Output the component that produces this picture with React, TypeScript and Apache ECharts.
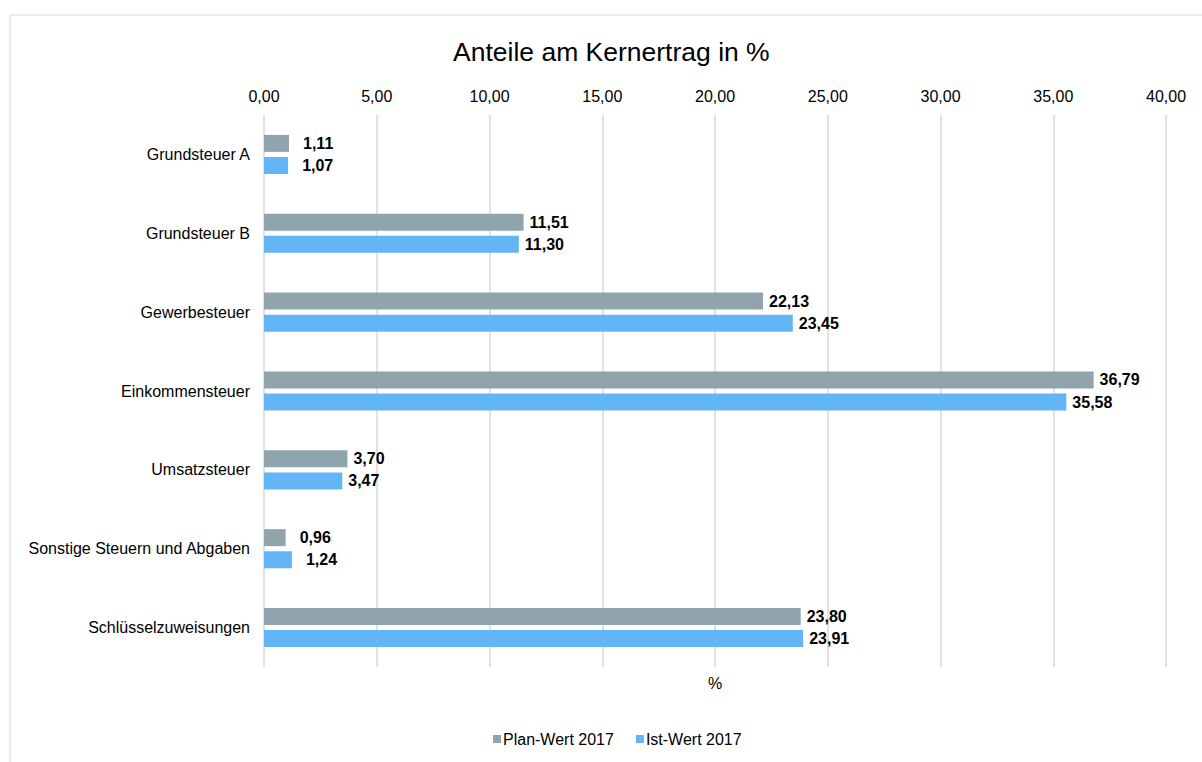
import React, { useEffect, useRef } from "react";
import * as echarts from "echarts";

const categories = [
  "Grundsteuer A",
  "Grundsteuer B",
  "Gewerbesteuer",
  "Einkommensteuer",
  "Umsatzsteuer",
  "Sonstige Steuern und Abgaben",
  "Schlüsselzuweisungen",
];
const planValues = [1.11, 11.51, 22.13, 36.79, 3.7, 0.96, 23.8];
const istValues = [1.07, 11.3, 23.45, 35.58, 3.47, 1.24, 23.91];
const seriesNames = ["Plan-Wert 2017", "Ist-Wert 2017"];
const titleText = "Anteile am Kernertrag in %";
const axisName = "%";

const fmt = (v: number) => v.toFixed(2).replace(".", ",");
const FONT = "Liberation Sans, Arial, sans-serif";

export default function App() {
  const ref = useRef<HTMLDivElement>(null);
  useEffect(() => {
    if (!ref.current) return;
    const chart = echarts.init(ref.current, undefined, { renderer: "svg" });
    const mk = (vals: number[]) =>
      vals.map((v) => ({
        value: v,
        label: { distance: v < 2 ? 14 : 6 },
      }));
    const labelCfg = {
      show: true,
      position: "right",
      formatter: (p: any) => fmt(p.value),
      fontFamily: FONT,
      fontSize: 16,
      fontWeight: "bold",
      color: "#000",
    };
    chart.setOption({
      animation: false,
      textStyle: { fontFamily: FONT },
      title: {
        text: titleText,
        left: 448,
        top: 33,
        textStyle: { fontFamily: FONT, fontSize: 26.5, fontWeight: "normal", color: "#000" },
      },
      graphic: [
        {
          type: "rect",
          shape: { x: 10, y: 15, width: 1300, height: 900 },
          style: { fill: "none", stroke: "#d9d9d9", lineWidth: 1 },
          silent: true,
          z: -10,
        },
      ],
      legend: {
        bottom: 10,
        left: 488,
        icon: "rect",
        itemWidth: 8,
        itemHeight: 8,
        itemGap: 22,
        itemStyle: { borderWidth: 0 },
        textStyle: { fontFamily: FONT, fontSize: 16, color: "#000", padding: [0, 0, 0, -3] },
        data: seriesNames,
      },
      grid: { left: 264, right: 36, top: 115, bottom: 95, containLabel: false },
      xAxis: [
        {
          type: "value",
          position: "top",
          min: 0,
          max: 40,
          interval: 5,
          axisLine: { show: false },
          axisTick: { show: false },
          axisLabel: {
            formatter: (v: number) => fmt(v),
            fontFamily: FONT,
            fontSize: 16,
            color: "#000",
            margin: 11,
          },
          splitLine: { show: true, lineStyle: { color: "#d9d9d9", width: 1.5 } },
        },
        {
          type: "value",
          position: "bottom",
          min: 0,
          max: 40,
          name: axisName,
          nameLocation: "middle",
          nameGap: 8,
          nameTextStyle: { fontFamily: FONT, fontSize: 16, color: "#000" },
          axisLine: { show: false },
          axisTick: { show: false },
          axisLabel: { show: false },
          splitLine: { show: false },
        },
      ],
      yAxis: {
        type: "category",
        inverse: true,
        data: categories,
        axisLine: { show: false },
        axisTick: { show: false },
        axisLabel: { fontFamily: FONT, fontSize: 16, color: "#000", margin: 14 },
      },
      series: [
        {
          name: seriesNames[0],
          type: "bar",
          data: mk(planValues),
          barWidth: 17,
          barGap: "30%",
          itemStyle: { color: "#90A4AE" },
          label: labelCfg,
        },
        {
          name: seriesNames[1],
          type: "bar",
          data: mk(istValues),
          barWidth: 17,
          barGap: "30%",
          itemStyle: { color: "#64B5F6" },
          label: labelCfg,
        },
      ],
    });
    return () => chart.dispose();
  }, []);
  return (
    <div
      ref={ref}
      style={{ position: "absolute", left: 0, top: 0, width: 1202, height: 762, background: "#fff" }}
    />
  );
}
